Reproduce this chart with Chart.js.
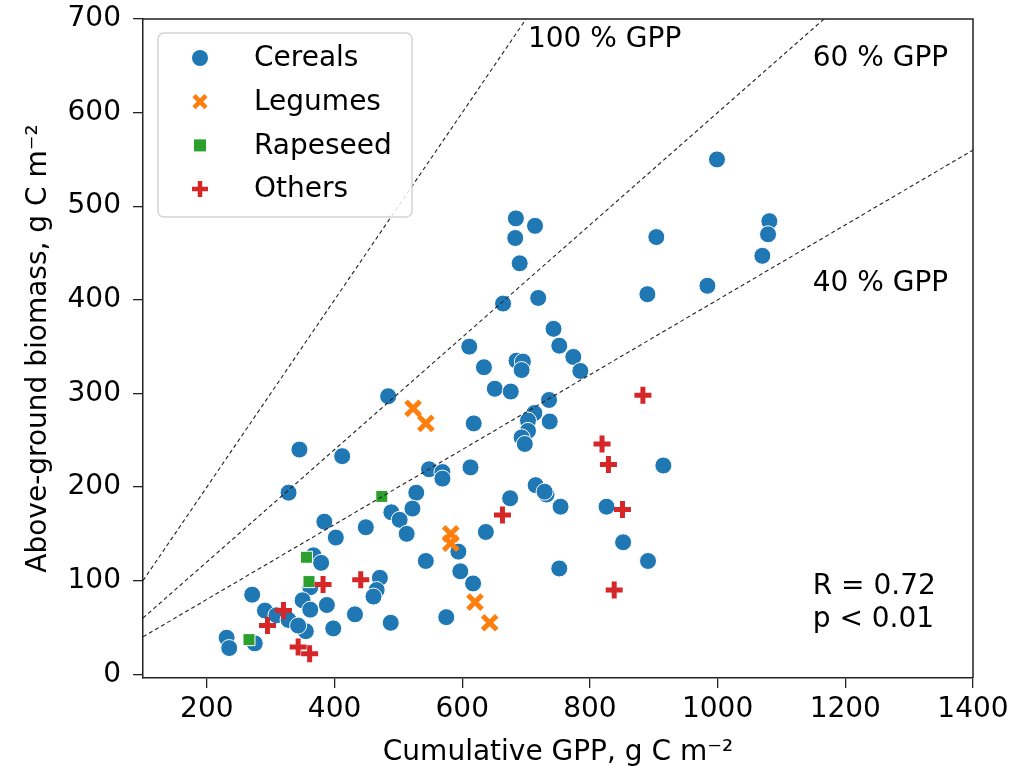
<!DOCTYPE html>
<html>
<head>
<meta charset="utf-8">
<script src="https://cdn.jsdelivr.net/npm/chart.js@4.4.0/dist/chart.umd.min.js"></script>
<style>
  body { margin: 0; background: #fff; }
  #wrap { width: 1015px; height: 773px; }
</style>
</head>
<body>
<div id="wrap"><canvas id="myChart" width="1015" height="773"></canvas></div>
<script>
// values (GPP, biomass in g C m-2)
const cerealsGpp = [484, 345, 412, 328, 548, 569, 569, 528, 489, 502, 522, 513, 384, 402, 449, 543, 367, 379, 362, 471,
  466, 461, 271, 291, 309, 328, 350, 362, 388, 432, 488, 575, 398, 355, 343, 231, 235, 275, 651, 676,
  736, 713, 703, 703, 693, 698, 737, 618, 613, 915, 715, 732, 729, 754, 675, 826, 637, 852, 891, 594,
  597, 617, 752, 684, 714, 683, 690, 664, 719, 904, 890, 984, 1081, 1079, 1070, 743, 752, 774, 785, 611,
  634, 685, 695, 693, 999];
const cerealsBiomass = [297, 240, 233, 194, 219, 216, 209, 194, 173, 165, 177, 150, 163, 146, 157, 121, 127, 119, 93, 103,
  90, 83, 85, 68, 63, 58, 79, 69, 74, 64, 55, 61, 49, 46, 52, 39, 28, 33, 305, 302,
  293, 279, 271, 260, 253, 246, 270, 268, 221, 223, 202, 192, 195, 179, 188, 179, 152, 141, 121, 131,
  110, 97, 113, 487, 479, 466, 439, 396, 402, 467, 406, 415, 484, 470, 447, 369, 351, 339, 324, 350,
  328, 335, 334, 325, 550];

const legumesGpp = [523, 543, 582, 582, 620, 643];
const legumesBiomass = [284, 268, 150, 140, 77, 55];

const rapeseedGpp = [474, 356, 360, 266];
const rapeseedBiomass = [190, 125, 99, 37];

const othersGpp = [382, 441, 320, 295, 343, 361, 883, 819, 829, 851, 663, 838];
const othersBiomass = [96, 101, 68, 52, 29, 22, 298, 246, 224, 176, 170, 90];

// reference lines: biomass = share * GPP
const gppShares = [1.0, 0.6, 0.4];
const lineLabels = ['100 % GPP', '60 % GPP', '40 % GPP'];
const lineLabelPos = [[703, 670], [1149, 650], [1149, 409]];

const statLines = ['R = 0.72', 'p < 0.01'];
const statPos = [[1149, 86], [1149, 50]];

const xTickValues = [200, 400, 600, 800, 1000, 1200, 1400];
const yTickValues = [0, 100, 200, 300, 400, 500, 600, 700];

const FONT = 'DejaVu Sans';
const blue = '#1f77b4', orange = '#ff7f0e', green = '#2ca02c', red = '#d62728';

function toPoints(xs, ys) {
  var pts = [];
  for (var i = 0; i < xs.length; i++) pts.push({ x: xs[i], y: ys[i] });
  return pts;
}

// higher order is drawn first
var datasets = [
  { label: 'Cereals', data: toPoints(cerealsGpp, cerealsBiomass), pointStyle: 'circle', pointRadius: 8.5,
    backgroundColor: blue, borderColor: '#ffffff', borderWidth: 1, order: 4 },
  { label: 'Legumes', data: toPoints(legumesGpp, legumesBiomass), pointStyle: 'crossRot', pointRadius: 10,
    backgroundColor: orange, borderColor: orange, borderWidth: 5, order: 3 },
  { label: 'Rapeseed', data: toPoints(rapeseedGpp, rapeseedBiomass), pointStyle: 'rect', pointRadius: 8.5,
    backgroundColor: green, borderColor: '#ffffff', borderWidth: 1, order: 2 },
  { label: 'Others', data: toPoints(othersGpp, othersBiomass), pointStyle: 'cross', pointRadius: 8.5,
    backgroundColor: red, borderColor: red, borderWidth: 5, order: 1 }
];

gppShares.forEach(function (s) {
  datasets.push({
    type: 'line', label: s * 100 + ' %', data: [{ x: 100, y: 100 * s }, { x: 1400, y: 1400 * s }],
    borderColor: '#222', borderWidth: 1.1, borderDash: [4, 3], pointRadius: 0, fill: false, order: 0
  });
});

// top/right sides of the box
const framePlugin = {
  id: 'frame',
  afterDatasetsDraw(chart) {
    var a = chart.chartArea, ctx = chart.ctx;
    ctx.save();
    ctx.strokeStyle = '#222';
    ctx.lineWidth = 1.5;
    ctx.beginPath();
    ctx.moveTo(a.left, a.top);
    ctx.lineTo(a.right, a.top);
    ctx.lineTo(a.right, a.bottom);
    ctx.stroke();
    ctx.restore();
  }
};

const textPlugin = {
  id: 'texts',
  afterDatasetsDraw(chart) {
    var ctx = chart.ctx, xs = chart.scales.x, ys = chart.scales.y;
    ctx.save();
    ctx.fillStyle = '#000';
    ctx.font = '28px "' + FONT + '"';
    ctx.textBaseline = 'alphabetic';
    ctx.textAlign = 'left';
    lineLabels.forEach(function (t, i) {
      ctx.fillText(t, xs.getPixelForValue(lineLabelPos[i][0]), ys.getPixelForValue(lineLabelPos[i][1]));
    });
    statLines.forEach(function (t, i) {
      ctx.fillText(t, xs.getPixelForValue(statPos[i][0]), ys.getPixelForValue(statPos[i][1]));
    });
    ctx.restore();
  }
};

// matplotlib-like legend box in the upper left corner
function roundRect(ctx, x, y, w, h, r) {
  ctx.beginPath();
  ctx.moveTo(x + r, y);
  ctx.arcTo(x + w, y, x + w, y + h, r);
  ctx.arcTo(x + w, y + h, x, y + h, r);
  ctx.arcTo(x, y + h, x, y, r);
  ctx.arcTo(x, y, x + w, y, r);
  ctx.closePath();
}

const legendPlugin = {
  id: 'boxLegend',
  afterDraw(chart) {
    var ctx = chart.ctx, a = chart.chartArea;
    var bx = a.left + 15, by = a.top + 14, bw = 254, bh = 184;
    ctx.save();
    roundRect(ctx, bx, by, bw, bh, 6);
    ctx.fillStyle = 'rgba(255,255,255,0.85)';
    ctx.fill();
    ctx.strokeStyle = '#d4d4d4';
    ctx.lineWidth = 1.5;
    ctx.stroke();
    ctx.font = '28px "' + FONT + '"';
    ctx.textBaseline = 'middle';
    for (var i = 0; i < 4; i++) {
      var ds = chart.data.datasets[i];
      var cy = by + 25 + i * 43.7, cx = bx + 42;
      ctx.fillStyle = ds.backgroundColor;
      ctx.strokeStyle = ds.backgroundColor;
      ctx.lineWidth = 4.5;
      if (ds.pointStyle === 'circle') {
        ctx.beginPath(); ctx.arc(cx, cy, 8, 0, Math.PI * 2); ctx.fill();
      } else if (ds.pointStyle === 'crossRot') {
        ctx.beginPath();
        ctx.moveTo(cx - 6, cy - 6); ctx.lineTo(cx + 6, cy + 6);
        ctx.moveTo(cx + 6, cy - 6); ctx.lineTo(cx - 6, cy + 6);
        ctx.stroke();
      } else if (ds.pointStyle === 'rect') {
        ctx.fillRect(cx - 6, cy - 6, 12, 12);
      } else {
        ctx.beginPath();
        ctx.moveTo(cx - 8, cy); ctx.lineTo(cx + 8, cy);
        ctx.moveTo(cx, cy - 8); ctx.lineTo(cx, cy + 8);
        ctx.stroke();
      }
      ctx.fillStyle = '#000';
      ctx.fillText(ds.label, bx + 96, cy + 1);
    }
    ctx.restore();
  }
};

function plainLabel(v) { return String(v); }

var ctx = document.getElementById('myChart').getContext('2d');
new Chart(ctx, {
  type: 'scatter',
  data: { datasets: datasets },
  plugins: [framePlugin, textPlugin, legendPlugin],
  options: {
    responsive: false,
    animation: false,
    layout: { padding: { top: 19, right: 42, left: 0, bottom: 0 } },
    plugins: { legend: { display: false }, tooltip: { enabled: false } },
    scales: {
      x: {
        type: 'linear', min: 100, max: 1400,
        afterBuildTicks: function (scale) { scale.ticks = xTickValues.map(function (v) { return { value: v }; }); },
        afterFit: function (scale) {
          scale.height = 95;
          scale.paddingLeft = 0; scale.paddingRight = 0;
        },
        ticks: { font: { family: FONT, size: 28 }, color: '#000', padding: 5, maxRotation: 0, autoSkip: false,
          callback: plainLabel },
        grid: { drawOnChartArea: false, drawTicks: true, tickLength: 10, color: '#222', lineWidth: 1.3 },
        border: { display: true, color: '#222', width: 1.5 },
        title: { display: true, text: 'Cumulative GPP, g C m⁻²', color: '#000',
          font: { family: FONT, size: 28 }, padding: { top: 4, bottom: 3 } }
      },
      y: {
        type: 'linear', min: -4, max: 700,
        afterBuildTicks: function (scale) { scale.ticks = yTickValues.map(function (v) { return { value: v }; }); },
        afterFit: function (scale) {
          scale.width = 143;
          scale.paddingTop = 0; scale.paddingBottom = 0;
        },
        ticks: { font: { family: FONT, size: 28 }, color: '#000', padding: 12, autoSkip: false,
          callback: plainLabel },
        grid: { drawOnChartArea: false, drawTicks: true, tickLength: 10, color: '#222', lineWidth: 1.3 },
        border: { display: true, color: '#222', width: 1.5 },
        title: { display: true, text: 'Above-ground biomass, g C m⁻²', color: '#000',
          font: { family: FONT, size: 28 }, padding: { top: 22, bottom: 0 } }
      }
    }
  }
});
</script>
</body>
</html>
